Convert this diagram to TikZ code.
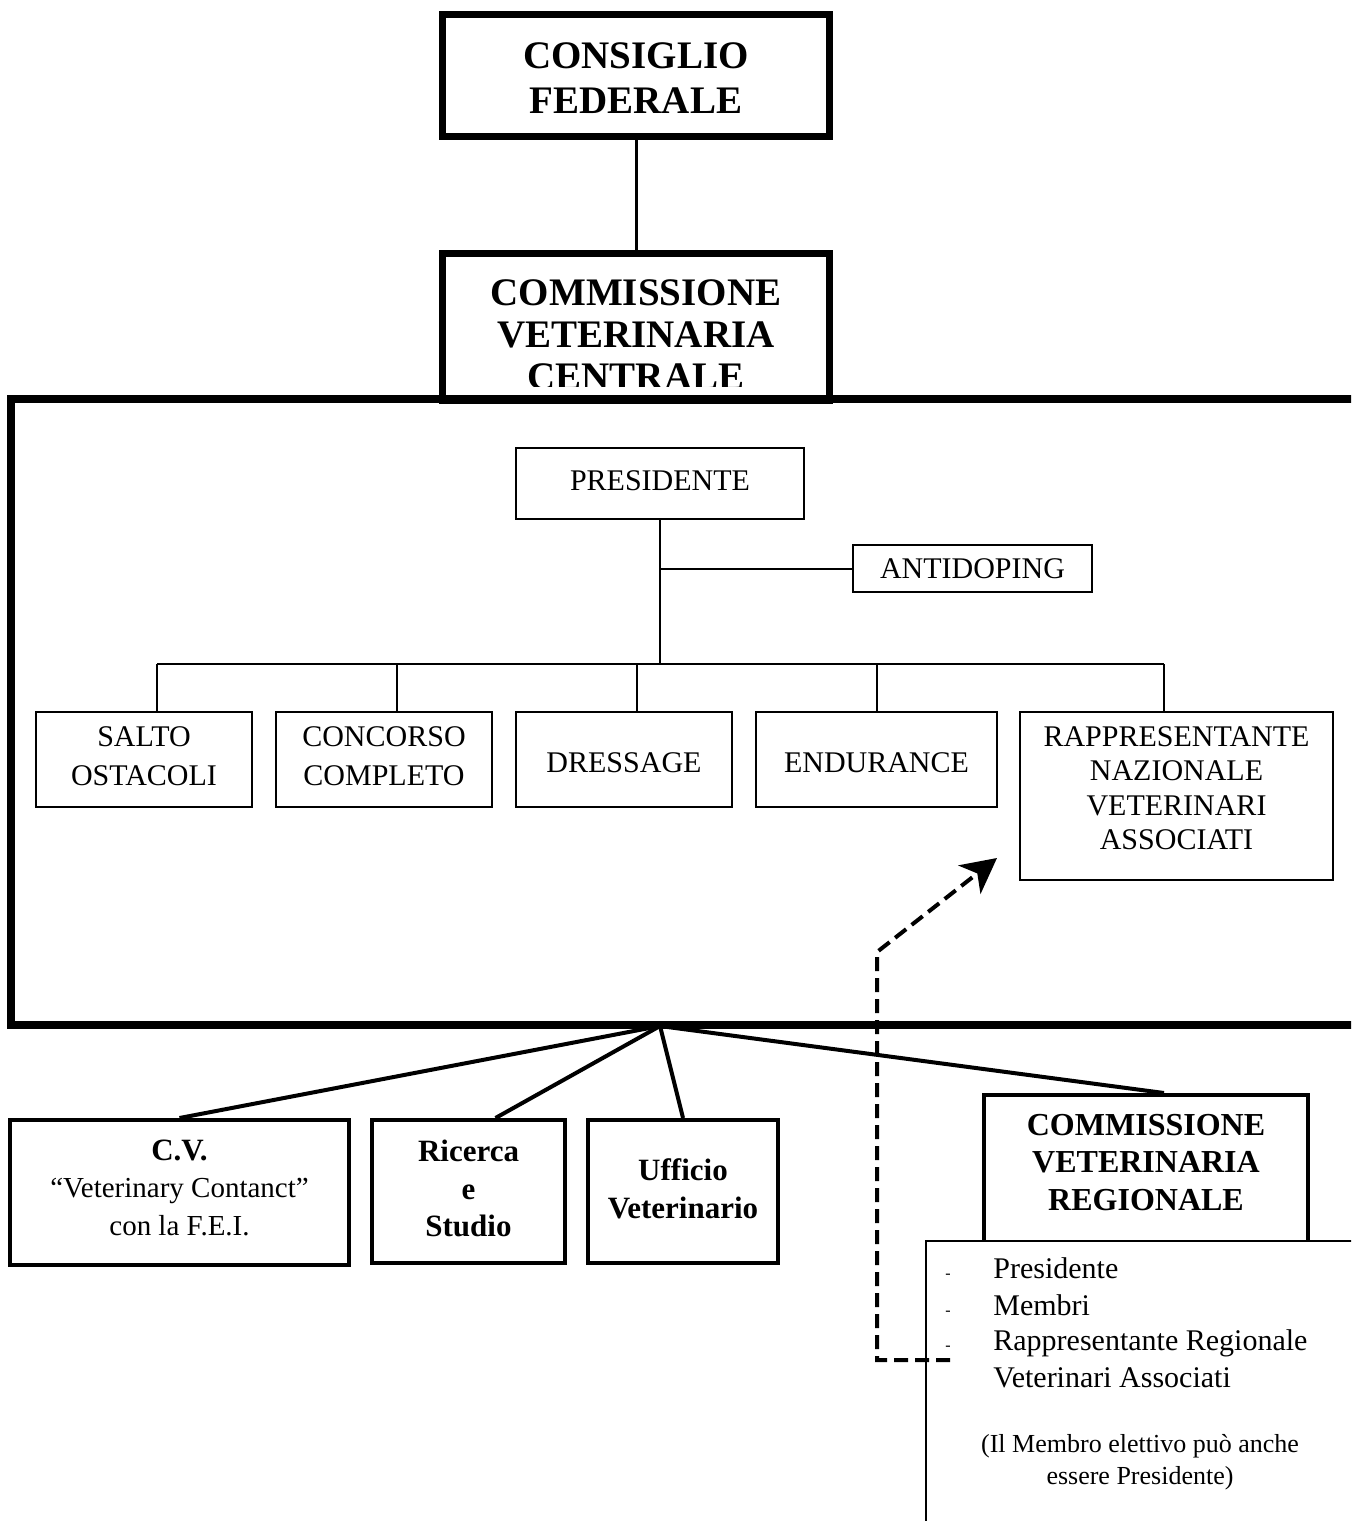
\documentclass[tikz,border=0pt]{standalone}
\usepackage{fontspec}
\setmainfont{Liberation Serif}
\usetikzlibrary{arrows.meta,positioning}
\tikzstyle{title box}=[draw,line width=3.5pt,align=center,inner sep=0pt,font=\bfseries\fontsize{19.5}{21}\selectfont]
\tikzstyle{unit box}=[draw,line width=1pt,align=center,inner sep=0pt,font=\fontsize{15}{19.5}\selectfont]
\tikzstyle{office box}=[draw,line width=2pt,align=center,inner sep=0pt,text depth=3pt,font=\bfseries\fontsize{15.5}{18.75}\selectfont]
\tikzstyle{list box}=[draw,fill=white,line width=1pt,inner sep=0pt]
\tikzstyle{item}=[anchor=base west,inner sep=0pt,font=\fontsize{15}{18}\selectfont]
\tikzstyle{dash mark}=[anchor=base,inner sep=0pt,font=\fontsize{8}{9}\selectfont]
\tikzstyle{tree line}=[draw,line width=1pt]
\tikzstyle{sub line}=[draw,line width=2pt]
\tikzstyle{dash ref}=[draw,line width=2pt,dash pattern=on 7pt off 3.5pt,-{Stealth[length=17.5pt,width=18pt,inset=5pt]}]

\begin{document}
\begin{tikzpicture}[x=0.5pt,y=-0.5pt]
\useasboundingbox (0,0) rectangle (1351,1521);
\clip (0,0) rectangle (1351,1521);

% Top of the chart
\node[title box, minimum width=193.5pt, minimum height=61pt, text height=38.4pt, text depth=0pt,
  font=\bfseries\fontsize{19.5}{22.5}\selectfont] (consiglio) at (636,75.5) {CONSIGLIO\\FEDERALE};
\node[title box, minimum width=193.5pt, minimum height=73.5pt] (centrale) at (636,326.5) {};
\begin{scope}
\clip (443,256) rectangle (830,386);
\node[title box, draw=none] (centraletxt) at (636,335) {COMMISSIONE\\VETERINARIA\\CENTRALE};
\end{scope}
\path[draw,line width=1.5pt] (consiglio) -- (centrale);

% The frame of the central commission
\draw[line width=3.6pt] (11,399) rectangle (1400,1025);

\node[unit box, minimum width=144pt, minimum height=35.5pt, text depth=2.5pt] (presidente) at (660,483.5) {PRESIDENTE};
\node[unit box, minimum width=119.5pt, minimum height=23.5pt] (antidoping) at (972.5,568.5) {ANTIDOPING};

\foreach \pos/\name/\wide/\high/\hgt/\dep/\txt in {{(144,759.5)/salto/108pt/47.5pt/29.4pt/3.5pt/{SALTO\\OSTACOLI}},
{(384,759.5)/concorso/108pt/47.5pt/29.4pt/3.5pt/{CONCORSO\\COMPLETO}},
{(624,759.5)/dressage/108pt/47.5pt/13.4pt/0pt/DRESSAGE},
{(876.5,759.5)/endurance/120.5pt/47.5pt/13.4pt/0pt/ENDURANCE},
{(1176.5,796)/rappr/156.5pt/84pt/61.5pt/8pt/{RAPPRESENTANTE\\[-2.3pt]NAZIONALE\\[-2.3pt]VETERINARI\\[-2.3pt]ASSOCIATI}}}
\node[unit box, minimum width=\wide, minimum height=\high, text height=\hgt, text depth=\dep] (\name) at \pos {\txt};

% Branches of the tree
\path[tree line] (presidente.south |- antidoping.west) -- (antidoping.west);
\foreach \x/\name in {157/salto,397/concorso,637/dressage,877/endurance,1164/rappr} {
\coordinate (t-\name) at (\x,664);
\path[tree line] (t-\name) -- (t-\name |- \name.north);
}
\path[tree line] (t-salto) -- (t-rappr);
\path[tree line] (presidente) -- (presidente.south |- t-salto);

% Offices below the frame
\coordinate (hub) at (660,1026);
\node[office box, minimum width=169.5pt, minimum height=72.5pt, text depth=5pt] (cv) at (179.5,1192.5) {C.V.\\{\mdseries\fontsize{14.5}{18.75}\selectfont “Veterinary Contanct”}\\{\mdseries\fontsize{14.5}{18.75}\selectfont con la F.E.I.}};
\node[office box, minimum width=96.5pt, minimum height=71.5pt] (ricerca) at (468.5,1191.5) {Ricerca\\e\\Studio};
\node[office box, minimum width=95pt, minimum height=71.5pt] (ufficio) at (683,1191.5) {Ufficio\\Veterinario};
\node[office box, minimum width=162pt, minimum height=77pt] (regionale) at (1146,1172) {};
\node[office box, draw=none, text depth=0pt, font=\bfseries\fontsize{16}{18.75}\selectfont] (regionaletxt) at ([yshift=5pt]regionale.center) {COMMISSIONE\\VETERINARIA\\REGIONALE};
\coordinate (ricerca-in) at ([xshift=13.5pt]ricerca.north);
\coordinate (regionale-in) at ([xshift=9pt]regionale.north);

\foreach \dest in {cv.north,ricerca-in,ufficio.north,regionale-in}
\path[sub line] (hub) -- (\dest);

% Members of the regional commission
\node[list box, anchor=north west, minimum width=250pt, minimum height=160pt] (lista) at (925,1240) {};
\foreach \y/\txt in {1278/Presidente,1315/Membri,1350/Rappresentante Regionale} {
\node[dash mark] at (948,\y) {-};
\node[item] at (993,\y) {\txt};
}
\node[item] (veterinari) at (993,1387) {Veterinari Associati};
\node[align=center, inner sep=0pt, font=\fontsize{13}{16}\selectfont] (nota) at (1140,1462) {(Il Membro elettivo può anche\\essere Presidente)};

% Dashed reference to the national representative
\coordinate (dstart) at (950,1360);
\coordinate (dend) at (997,858);
\path[dash ref] (dstart) -- ++(-73,0) -- ++(0,-408) -- (dend);

\end{tikzpicture}
\end{document}
